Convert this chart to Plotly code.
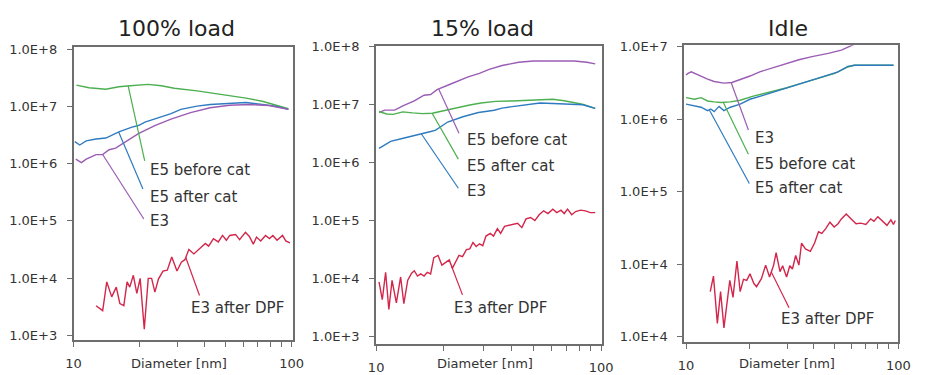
import numpy as np
import plotly.graph_objects as go

# ---------------- data ----------------
# Panel 1: 100% load
p1_d_e5b = [10.31, 11.76, 14.06, 16.14, 18.2, 21.99, 25.24, 28.97, 36.83, 43.76, 52.0, 61.76, 73.32, 84.19, 96.6]
p1_v_e5b = [2.36e7, 2.12e7, 2.0e7, 2.21e7, 2.30e7, 2.43e7, 2.30e7, 2.08e7, 1.87e7, 1.71e7, 1.55e7, 1.40e7, 1.23e7, 1.05e7, 9.1e6]
p1_d_e5a = [10.13, 10.67, 11.43, 11.83, 12.68, 14.06, 16.14, 18.53, 19.83, 21.25, 23.57, 27.98, 31.04, 36.83, 42.29, 52.0, 61.76, 73.32, 84.19, 96.6]
p1_v_e5a = [2.43e6, 2.12e6, 2.5e6, 2.58e6, 2.7e6, 2.8e6, 3.58e6, 4.35e6, 4.64e6, 5.3e6, 6.0e6, 7.5e6, 8.9e6, 1.01e7, 1.08e7, 1.13e7, 1.17e7, 1.08e7, 1.01e7, 8.9e6]
p1_d_e3 = [10.24, 10.86, 11.43, 12.68, 13.59, 14.55, 15.59, 17.29, 19.83, 23.57, 27.98, 34.41, 42.29, 52.0, 63.93, 78.63, 96.6]
p1_v_e3 = [1.2e6, 1.04e6, 1.2e6, 1.44e6, 1.44e6, 1.75e6, 1.87e6, 2.4e6, 3.35e6, 4.64e6, 6.0e6, 7.8e6, 9.5e6, 1.05e7, 1.08e7, 1.04e7, 8.9e6]
p1_d_dpf = [12.68, 13.6, 14.2, 14.96, 15.7, 16.3, 17.0, 17.6, 18.1, 18.8, 19.5, 20.2, 21.1, 22.0, 22.8, 23.6,
            24.5, 25.7, 26.9, 28.2, 29.8, 31.2, 32.4, 33.8, 35.6, 37.9, 40.2, 41.6, 43.8, 46.1, 48.2, 50.2,
            52.0, 55.3, 57.7, 61.4, 64.0, 66.7, 69.0, 72.1, 75.9, 79.1, 82.0, 85.7, 90.8, 94.0, 98.2]
p1_v_dpf = [3.3e3, 2.7e3, 8.6e3, 4.7e3, 6.95e3, 3.6e3, 3.3e3, 8.6e3, 6.95e3, 1.12e4, 5.4e3, 9.9e3, 1.28e3, 9.9e3, 9.9e3, 5.7e3,
            9.6e3, 1.33e4, 1.38e4, 2.33e4, 1.33e4, 1.89e4, 2.1e4, 3.18e4, 2.65e4, 3.31e4, 4.03e4, 3.62e4, 4.9e4, 4.29e4, 5.57e4, 4.58e4,
            5.57e4, 5.8e4, 4.71e4, 6.34e4, 5.36e4, 3.92e4, 5.21e4, 4.46e4, 5.57e4, 4.9e4, 5.57e4, 4.58e4, 5.57e4, 4.46e4, 4.12e4]

# Panel 2: 15% load
p2_d_e5b = [10.3, 10.94, 12.1, 13.14, 14.78, 16.33, 17.47, 18.65, 21.34, 23.6, 25.65, 28.78, 31.8, 36.33, 43.05, 49.97, 62.0, 75.9, 86.5, 94.2]
p2_v_e5b = [7.27e6, 7.94e6, 7.94e6, 9.37e6, 1.14e7, 1.43e7, 1.47e7, 1.78e7, 2.21e7, 2.61e7, 2.96e7, 3.4e7, 3.98e7, 4.64e7, 5.27e7, 5.56e7, 5.62e7, 5.56e7, 5.27e7, 4.95e7]
p2_d_e5a = [10.3, 11.13, 11.89, 13.14, 14.53, 16.06, 17.76, 20.29, 23.99, 26.08, 29.26, 33.99, 40.0, 44.45, 54.22, 61.05, 68.57, 82.63, 94.2]
p2_v_e5a = [7.5e6, 6.8e6, 6.7e6, 7.4e6, 7.1e6, 6.9e6, 7.0e6, 7.9e6, 9.0e6, 9.7e6, 1.05e7, 1.12e7, 1.14e7, 1.16e7, 1.22e7, 1.22e7, 1.15e7, 1.0e7, 8.5e6]
p2_d_e3 = [10.3, 11.6, 13.2, 15.3, 17.5, 18.4, 20.8, 24.3, 28.5, 33.5, 36.3, 39.5, 44.5, 53.5, 61.0, 69.0, 83.0, 94.2]
p2_v_e3 = [1.75e6, 2.3e6, 2.6e6, 2.96e6, 3.4e6, 3.6e6, 4.95e6, 6.1e6, 7.2e6, 7.9e6, 8.6e6, 9.0e6, 9.6e6, 1.05e7, 1.03e7, 1.0e7, 9.8e6, 8.5e6]
p2_d_dpf = [10.3, 10.65, 11.02, 11.39, 11.77, 12.3, 12.85, 13.28, 13.82, 14.38, 14.78, 15.27, 15.8, 16.33, 16.88, 17.47,
            18.05, 18.85, 19.61, 20.42, 21.13, 21.83, 22.57, 23.35, 24.21, 25.2, 26.08, 26.95, 27.86, 28.82, 29.79, 30.79,
            32.18, 33.25, 34.61, 35.77, 37.23, 38.9, 40.61, 42.57, 44.45, 46.4, 48.64, 50.78, 53.06, 55.56, 58.06, 61.05,
            63.54, 66.34, 68.57, 70.95, 74.08, 77.1, 81.06, 85.2, 89.6, 94.2]
p2_v_dpf = [8.8e3, 4.35e3, 1.29e4, 2.96e3, 9.4e3, 3.83e3, 1.07e4, 3.73e3, 9.4e3, 1.24e4, 1.37e4, 1.11e4, 1.21e4, 1.11e4, 1.29e4, 1.21e4,
            2.3e4, 2.51e4, 1.71e4, 1.9e4, 2.1e4, 1.51e4, 1.9e4, 2.51e4, 2.39e4, 3.16e4, 3.25e4, 4.19e4, 3.59e4, 3.98e4, 3.69e4, 5.41e4,
            6.0e4, 5.41e4, 7.27e4, 6.0e4, 7.94e4, 8.26e4, 8.81e4, 9.0e4, 7.55e4, 1.07e5, 1.13e5, 1.0e5, 1.26e5, 1.47e5, 1.32e5, 1.57e5,
            1.37e5, 1.51e5, 1.32e5, 1.57e5, 1.26e5, 1.43e5, 1.51e5, 1.47e5, 1.37e5, 1.37e5]

# Panel 3: Idle
p3_d_e3 = [10.0, 10.21, 10.58, 10.97, 11.77, 12.63, 13.56, 15.07, 16.46, 17.98, 20.0, 22.23, 25.63, 29.51, 33.99, 39.18, 46.73, 53.87, 59.9, 63.0]
p3_v_e3 = [4.06e6, 4.27e6, 4.49e6, 4.27e6, 3.93e6, 3.56e6, 3.30e6, 3.14e6, 3.2e6, 3.48e6, 3.93e6, 4.49e6, 5.14e6, 5.82e6, 6.58e6, 7.28e6, 8.05e6, 8.95e6, 1.02e7, 1.1e7]
p3_d_e5b = [10.0, 10.97, 11.77, 12.63, 13.56, 14.55, 16.17, 17.98, 20.73, 24.73, 29.51, 35.24, 42.03, 50.18, 57.78, 62.04, 76.7, 94.8]
p3_v_e5b = [1.98e6, 1.88e6, 1.98e6, 1.78e6, 1.73e6, 1.7e6, 1.73e6, 1.82e6, 2.08e6, 2.35e6, 2.69e6, 3.14e6, 3.67e6, 4.27e6, 5.24e6, 5.52e6, 5.52e6, 5.52e6]
p3_d_e5a = [10.0, 10.97, 11.77, 12.63, 13.08, 13.56, 14.3, 15.07, 16.17, 17.98, 20.0, 23.05, 26.55, 31.69, 37.79, 45.12, 51.97, 57.78, 62.04, 76.7, 94.8]
p3_v_e5a = [1.61e6, 1.53e6, 1.46e6, 1.31e6, 1.38e6, 1.27e6, 1.5e6, 1.31e6, 1.46e6, 1.61e6, 1.88e6, 2.13e6, 2.43e6, 2.83e6, 3.3e6, 3.93e6, 4.49e6, 5.35e6, 5.52e6, 5.52e6, 5.52e6]
p3_d_dpf = [13.0, 13.46, 14.04, 14.54, 15.08, 16.07, 16.64, 17.36, 17.98, 18.64, 19.31, 20.0, 20.86, 21.47, 22.64, 23.7,
            24.73, 25.8, 26.55, 27.7, 28.5, 29.74, 30.8, 31.69, 32.82, 33.99, 34.98, 36.49, 38.48, 40.29, 42.03, 43.58,
            45.47, 47.58, 49.81, 51.97, 53.87, 56.8, 59.9, 63.17, 66.6, 70.23, 74.08, 76.7, 80.02, 83.75, 88.33, 92.15, 94.84, 96.6]
p3_v_dpf = [4.2e3, 6.87e3, 1.53e3, 4.2e3, 1.33e3, 6.0e3, 3.49e3, 1.11e4, 4.2e3, 6.18e3, 6.0e3, 7.38e3, 5.42e3, 4.9e3, 6.32e3, 9.72e3,
            6.67e3, 9.52e3, 1.44e4, 7.91e3, 9.52e3, 6.67e3, 9.52e3, 8.59e3, 1.32e4, 9.72e3, 1.96e4, 1.63e4, 1.51e4, 1.96e4, 2.8e4, 2.66e4,
            3.1e4, 3.8e4, 3.26e4, 3.62e4, 4.22e4, 4.93e4, 4.22e4, 3.62e4, 3.69e4, 3.54e4, 4.22e4, 3.92e4, 4.53e4, 4.01e4, 3.44e4, 4.09e4, 3.54e4, 4.01e4]

panel_titles = ["100% load", "15% load", "Idle"]
x_tick_vals = [10, 20, 30, 40, 50, 60, 70, 80, 90, 100]
x_tick_text = ["10", "", "", "", "", "", "", "", "", "100"]
y_tick_vals_12 = [1e3, 1e4, 1e5, 1e6, 1e7, 1e8]
y_tick_text_12 = ["1.0E+3", "1.0E+4", "1.0E+5", "1.0E+6", "1.0E+7", "1.0E+8"]
y_tick_vals_3 = [1e3, 1e4, 1e5, 1e6, 1e7]
y_tick_text_3 = ["1.0E+4", "1.0E+4", "1.0E+5", "1.0E+6", "1.0E+7"]
x_axis_title = "Diameter [nm]"

# ---------------- styles ----------------
GREEN = "#4caf50"
BLUE = "#2f7bc1"
PURPLE = "#9b5cb4"
RED = "#d3264b"
FONT = "DejaVu Sans"
TXT = "#333333"
AXC = "#6e6e6e"
W, H = 930, 375

panels = [
    dict(title=panel_titles[0],
         series=[(p1_d_e5b, p1_v_e5b, GREEN), (p1_d_e5a, p1_v_e5a, BLUE), (p1_d_e3, p1_v_e3, PURPLE), (p1_d_dpf, p1_v_dpf, RED)],
         labels=[("E5 before cat", 0, 17.8, (21.2, 1.12e6), (21.9, 7.6e5)),
                 ("E5 after cat", 1, 16.1, (20.8, 3.6e5), (21.9, 2.65e5)),
                 ("E3", 2, 13.6, (21.0, 1.08e5), (21.9, 1.0e5)),
                 ("E3 after DPF", 3, 32.7, (37.8, 4.96e3), (33.8, 2.99e3))],
         xr=[1.0, 2.005], yr=[2.92, 8.03], ytv=y_tick_vals_12, ytt=y_tick_text_12,
         px=(67, 291), py=(41.7, 343), tx=171.7, dx=174.5),
    dict(title=panel_titles[1],
         series=[(p2_d_e5b, p2_v_e5b, PURPLE), (p2_d_e5a, p2_v_e5a, GREEN), (p2_d_e3, p2_v_e3, BLUE), (p2_d_dpf, p2_v_dpf, RED)],
         labels=[("E5 before cat", 0, 18.97, (23.35, 3.16e6), (24.9, 2.45e6)),
                 ("E5 after cat", 1, 17.74, (23.2, 1.14e6), (24.9, 8.8e5)),
                 ("E3", 2, 15.9, (23.2, 3.59e5), (24.9, 3.16e5)),
                 ("E3 after DPF", 3, 21.7, (24.2, 5.27e3), (21.8, 3.16e3))],
         xr=[0.999, 2.004], yr=[2.88, 8.005], ytv=y_tick_vals_12, ytt=y_tick_text_12,
         px=(376, 607), py=(40, 347), tx=485, dx=487.5),
    dict(title=panel_titles[2],
         series=[(p3_d_e3, p3_v_e3, PURPLE), (p3_d_e5b, p3_v_e5b, GREEN), (p3_d_e5a, p3_v_e5a, BLUE), (p3_d_dpf, p3_v_dpf, RED)],
         labels=[("E3", 0, 16.3, (19.66, 7.08e5), (20.73, 5.48e5)),
                 ("E5 before cat", 1, 14.96, (19.66, 3.28e5), (20.73, 2.41e5)),
                 ("E5 after cat", 2, 12.86, (19.86, 1.3e5), (20.73, 1.11e5)),
                 ("E3 after DPF", 3, 25.2, (30.55, 2.51e3), (27.5, 1.75e3))],
         xr=[0.991, 2.0], yr=[2.93, 7.02], ytv=y_tick_vals_3, ytt=y_tick_text_3,
         px=(691, 910), py=(39.3, 345), tx=796.7, dx=796),
]

fig = go.Figure()
annotations = []
layout = {}

for i, p in enumerate(panels):
    n = "" if i == 0 else str(i + 1)
    xa, ya = "x" + n, "y" + n
    # series lines
    for d, v, c in p["series"]:
        fig.add_trace(go.Scatter(x=d, y=v, mode="lines", line=dict(color=c, width=1.4),
                                 xaxis=xa, yaxis=ya, showlegend=False, hoverinfo="skip"))
    # leader lines + labels
    for text, si, ax_x, end, lab in p["labels"]:
        d, v, c = p["series"][si]
        ay = 10 ** np.interp(np.log10(ax_x), np.log10(d), np.log10(v))
        fig.add_trace(go.Scatter(x=[ax_x, end[0]], y=[ay, end[1]], mode="lines",
                                 line=dict(color=c, width=1.2), xaxis=xa, yaxis=ya,
                                 showlegend=False, hoverinfo="skip"))
        annotations.append(dict(text=text, x=np.log10(lab[0]), y=np.log10(lab[1]), xref=xa, yref=ya,
                                xanchor="left", yanchor="middle", showarrow=False,
                                font=dict(family=FONT, size=15, color=TXT)))
    # title and x-axis caption
    annotations.append(dict(text=p["title"], x=p["tx"] / W, y=1 - 22 / H, xref="paper", yref="paper",
                            xanchor="center", yanchor="middle", showarrow=False,
                            font=dict(family=FONT, size=22, color="#222222")))
    annotations.append(dict(text=x_axis_title, x=p["dx"] / W, y=1 - 367 / H, xref="paper", yref="paper",
                            xanchor="center", yanchor="middle", showarrow=False,
                            font=dict(family=FONT, size=13, color=TXT)))
    common = dict(showline=True, linecolor=AXC, linewidth=1.5, mirror=True, ticks="outside",
                  ticklen=5, tickcolor=AXC, tickwidth=1.2, showgrid=False, zeroline=False,
                  tickfont=dict(family=FONT, size=13, color=TXT))
    layout["xaxis" + n] = dict(type="log", range=p["xr"], domain=[p["px"][0] / W, p["px"][1] / W],
                               anchor=ya, tickmode="array", tickvals=x_tick_vals, ticktext=x_tick_text,
                               ticklabelstandoff=6, **common)
    layout["yaxis" + n] = dict(type="log", range=p["yr"], domain=[1 - p["py"][1] / H, 1 - p["py"][0] / H],
                               anchor=xa, tickmode="array", tickvals=p["ytv"], ticktext=p["ytt"],
                               ticklabelstandoff=7, **common)

fig.update_layout(width=W, height=H, autosize=False, margin=dict(l=0, r=0, t=0, b=0),
                  paper_bgcolor="white", plot_bgcolor="white", showlegend=False,
                  annotations=annotations, **layout)

fig.write_html("out.html")
